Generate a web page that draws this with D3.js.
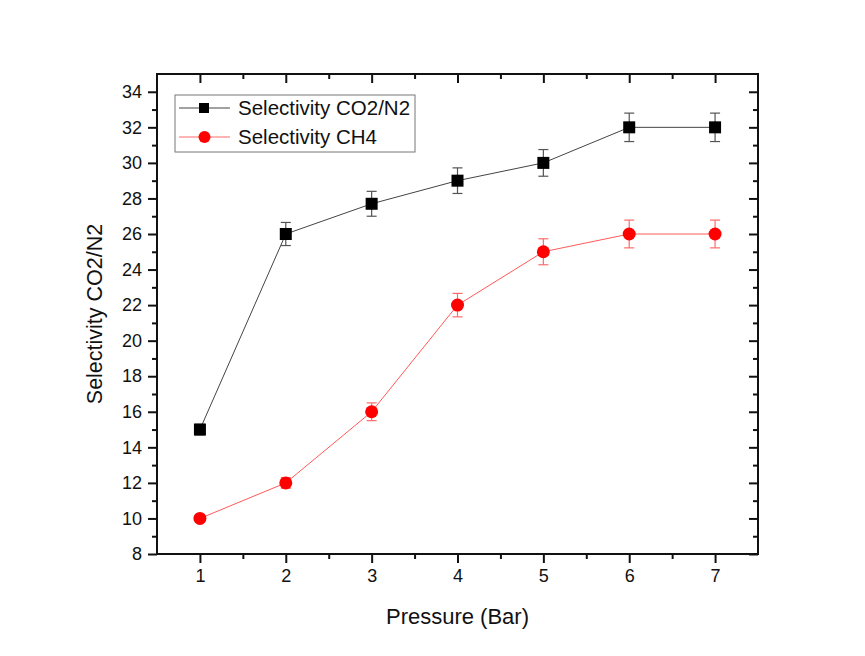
<!DOCTYPE html>
<html><head><meta charset="utf-8">
<script src="https://cdn.jsdelivr.net/npm/d3@7"></script>
<style>body{margin:0;background:#fff}svg{display:block}text{font-family:"Liberation Sans",Arial,sans-serif;fill:#111}</style>
</head><body>
<script>
const pressure = [1, 2, 3, 4, 5, 6, 7];
const co2n2 = [15, 26, 27.7, 29, 30, 32, 32];
const co2n2Err = [0.3, 0.65, 0.7, 0.72, 0.75, 0.8, 0.8];
const ch4 = [10, 12, 16, 22, 25, 26, 26];
const ch4Err = [0.2, 0.3, 0.5, 0.66, 0.73, 0.78, 0.78];
const xTicks = [1, 2, 3, 4, 5, 6, 7];
const yTicks = [8, 10, 12, 14, 16, 18, 20, 22, 24, 26, 28, 30, 32, 34];
const seriesNames = ["Selectivity CO2/N2", "Selectivity CH4"];

const W = 865, H = 656;
const L = 157, R = 758, T = 74, B = 554;
const svg = d3.select("body").append("svg").attr("width", W).attr("height", H);
const x = d3.scaleLinear().domain([0.5, 7.5]).range([L, R]);
const y = d3.scaleLinear().domain([8, 35]).range([B, T]);

const minorX = d3.range(1.5, 7.5, 1);
const minorY = d3.range(9, 35, 2);

// bottom axis
svg.append("g").attr("transform", `translate(0,${B})`)
  .call(d3.axisBottom(x).tickValues(xTicks).tickFormat(d3.format("d")).tickSize(9).tickPadding(6));
svg.append("g").attr("transform", `translate(0,${B})`)
  .call(d3.axisBottom(x).tickValues(minorX).tickFormat("").tickSize(5));
// top axis (inward)
svg.append("g").attr("transform", `translate(0,${T})`)
  .call(d3.axisBottom(x).tickValues(xTicks).tickFormat("").tickSize(9));
svg.append("g").attr("transform", `translate(0,${T})`)
  .call(d3.axisBottom(x).tickValues(minorX).tickFormat("").tickSize(5));
// left axis
svg.append("g").attr("transform", `translate(${L},0)`)
  .call(d3.axisLeft(y).tickValues(yTicks).tickFormat(d3.format("d")).tickSize(9).tickPadding(6));
svg.append("g").attr("transform", `translate(${L},0)`)
  .call(d3.axisLeft(y).tickValues(minorY).tickFormat("").tickSize(5));
// right axis (inward)
svg.append("g").attr("transform", `translate(${R},0)`)
  .call(d3.axisLeft(y).tickValues(yTicks).tickFormat("").tickSize(9));
svg.append("g").attr("transform", `translate(${R},0)`)
  .call(d3.axisLeft(y).tickValues(minorY).tickFormat("").tickSize(5));

svg.selectAll(".tick line").attr("stroke", "#111").attr("stroke-width", 2);
svg.selectAll(".tick text").attr("font-size", 18).style("font-family", '"Liberation Sans",Arial,sans-serif').attr("fill", "#111");
svg.selectAll(".domain").remove();
svg.append("rect").attr("x", L).attr("y", T).attr("width", R - L).attr("height", B - T)
  .attr("fill", "none").attr("stroke", "#111").attr("stroke-width", 2);

const line = d3.line().x((d,i)=>x(pressure[i])).y(d=>y(d));
function drawSeries(vals, errs, lineColor, errColor, shape, fill) {
  svg.append("path").datum(vals).attr("d", line).attr("fill", "none")
    .attr("stroke", lineColor).attr("stroke-width", 1);
  const g = svg.append("g");
  vals.forEach((v, i) => {
    const cx = x(pressure[i]);
    const y1 = y(v + errs[i]), y2 = y(v - errs[i]);
    g.append("line").attr("x1", cx).attr("x2", cx).attr("y1", y1).attr("y2", y2).attr("stroke", errColor).attr("stroke-width", 1.2);
    [y1, y2].forEach(yy => g.append("line").attr("x1", cx - 5).attr("x2", cx + 5).attr("y1", yy).attr("y2", yy).attr("stroke", errColor).attr("stroke-width", 1.2));
    if (shape === "square") {
      g.append("rect").attr("x", cx - 6).attr("y", y(v) - 6).attr("width", 12).attr("height", 12).attr("fill", fill);
    } else {
      g.append("circle").attr("cx", cx).attr("cy", y(v)).attr("r", 6.5).attr("fill", fill);
    }
  });
}
drawSeries(co2n2, co2n2Err, "#444", "#555", "square", "#000");
drawSeries(ch4, ch4Err, "#ff5a5a", "#ff6b6b", "circle", "#ff0000");

// legend
const lg = svg.append("g");
lg.append("rect").attr("x", 175).attr("y", 95).attr("width", 240).attr("height", 57)
  .attr("fill", "#fff").attr("stroke", "#777").attr("stroke-width", 1);
const legY = [108, 137];
[["#444", "square", "#000"], ["#ff6b6b", "circle", "#ff0000"]].forEach((s, i) => {
  lg.append("line").attr("x1", 179).attr("x2", 230).attr("y1", legY[i]).attr("y2", legY[i]).attr("stroke", s[0]).attr("stroke-width", 1);
  if (s[1] === "square") lg.append("rect").attr("x", 199).attr("y", legY[i] - 5).attr("width", 10).attr("height", 10).attr("fill", s[2]);
  else lg.append("circle").attr("cx", 204.5).attr("cy", legY[i]).attr("r", 6).attr("fill", s[2]);
  lg.append("text").attr("x", 238).attr("y", legY[i] + 7).attr("font-size", 20.5).text(seriesNames[i]);
});

svg.append("text").attr("x", (L + R) / 2).attr("y", 624).attr("text-anchor", "middle").attr("font-size", 22).text("Pressure (Bar)");
svg.append("text").attr("transform", `translate(102,${(T + B) / 2}) rotate(-90)`).attr("text-anchor", "middle").attr("font-size", 21.5).text("Selectivity CO2/N2");
</script>
</body></html>
